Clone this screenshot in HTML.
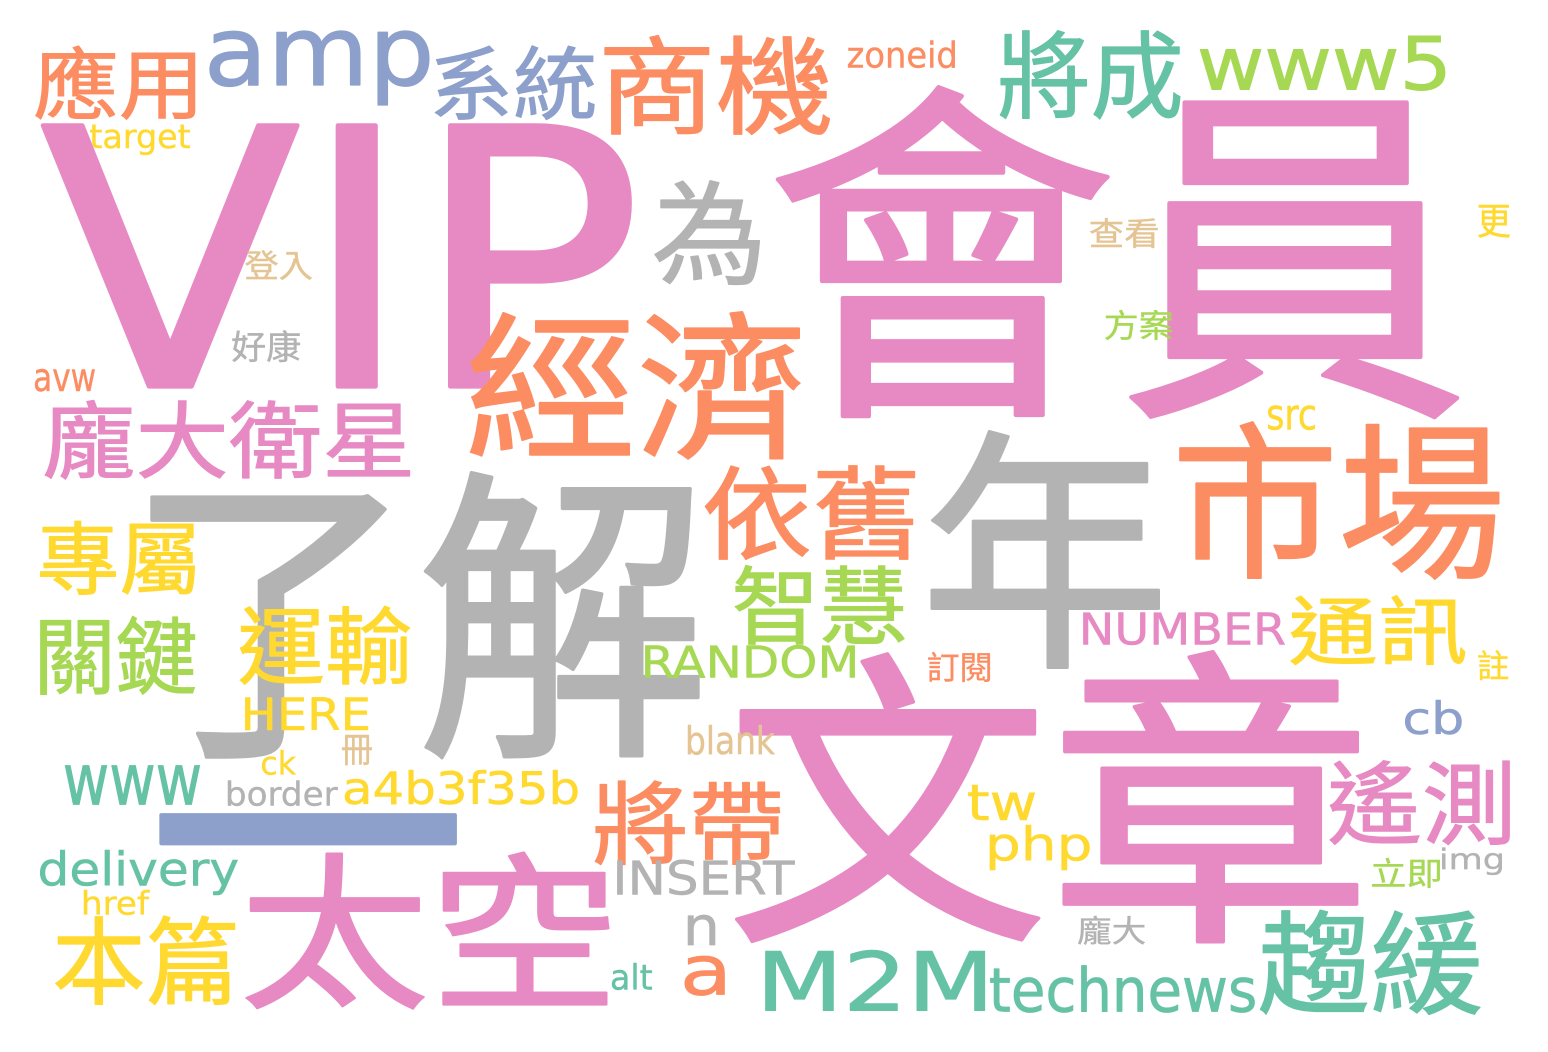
<!DOCTYPE html>
<html><head><meta charset="utf-8">
<style>
html,body{margin:0;padding:0;background:#fff;}
svg{display:block;}
text{font-family:"DejaVu Sans","Liberation Sans","Noto Sans CJK TC",sans-serif;}
</style></head>
<body>
<svg id="cloud" width="1548" height="1052" viewBox="0 0 1548 1052"></svg>
<script>
const words = ["VIP","會員","了解","年","文章","經濟","市場","太空","趨緩","遙測","通訊","將帶","依舊","智慧","龐大衛星","專屬","關鍵","運輸","本篇","應用","amp","系統","商機","將成","www5","為","zoneid","target","查看","更","登入","方案","好康","avw","src","NUMBER","RANDOM","訂閱","註","HERE","一","冊","blank","cb","ck","www","border","a4b3f35b","tw","php","delivery","INSERT","href","img","立即","龐大","n","a","M2M","technews","alt"];
const colors = ["pink","pink","gray","gray","pink","orange","orange","pink","green","pink","yellow","orange","orange","lime","pink","yellow","lime","yellow","yellow","orange","blue","blue","orange","green","lime","gray","orange","yellow","tan","yellow","tan","lime","gray","orange","yellow","pink","lime","orange","yellow","yellow","blue","tan","tan","blue","yellow","green","gray","yellow","yellow","yellow","green","gray","yellow","gray","lime","gray","gray","orange","green","green","green"];
const boxes = [[40,125,630,390],[775,85,1460,420],[150,470,700,760],[930,430,1160,670],[735,650,1360,945],[470,310,800,460],[1180,420,1500,580],[245,850,610,1010],[1260,910,1480,1015],[1330,760,1510,845],[1290,595,1465,665],[595,780,780,865],[705,465,915,560],[735,565,905,645],[45,400,410,480],[40,520,195,595],[40,615,195,695],[240,605,410,685],[55,915,235,1005],[35,45,195,120],[210,30,430,105],[435,45,595,120],[605,35,830,135],[1000,30,1180,120],[1200,35,1445,90],[655,180,760,285],[848,40,955,68],[90,125,190,155],[1090,218,1158,248],[1478,205,1510,238],[245,250,312,280],[1105,310,1172,340],[232,330,300,362],[35,368,95,392],[1268,405,1315,430],[1083,612,1285,645],[645,645,855,678],[928,652,990,682],[1478,650,1508,680],[245,697,368,730],[160,812,455,843],[342,735,372,765],[688,725,775,755],[1405,700,1462,735],[262,750,296,775],[65,765,200,805],[228,780,338,806],[345,770,578,805],[968,785,1035,820],[990,825,1090,870],[40,850,238,895],[617,860,795,895],[84,890,150,915],[1442,847,1502,875],[1372,858,1440,888],[1078,916,1145,945],[688,915,715,945],[685,955,725,995],[765,950,985,1010],[990,965,1255,1012],[612,963,652,990]];
const palette = {pink:"#e78ac3",orange:"#fc8d62",green:"#66c2a5",blue:"#8da0cb",lime:"#a6d854",yellow:"#ffd92f",tan:"#e5c494",gray:"#b3b3b3"};
const FONT = '"DejaVu Sans","Liberation Sans","Noto Sans CJK TC",sans-serif';
const svg = document.getElementById('cloud');
const ctx = document.createElement('canvas').getContext('2d');
const NS = 'http://www.w3.org/2000/svg';
words.forEach((w,i)=>{
  const [x0,y0,x1,y1] = boxes[i];
  ctx.font = '100px ' + FONT;
  const m = ctx.measureText(w);
  const inkW = m.actualBoundingBoxLeft + m.actualBoundingBoxRight;
  const inkH = m.actualBoundingBoxAscent + m.actualBoundingBoxDescent;
  const sx = (x1-x0)/inkW;
  let sy = (y1-y0)/inkH;
  if (sy > sx*1.25) sy = sx*1.25;
  if (sy < sx*0.8) sy = sx*0.8;
  const tx = x0 + m.actualBoundingBoxLeft*sx;
  const ty = (y0+y1)/2 + (m.actualBoundingBoxAscent - m.actualBoundingBoxDescent)/2*sy;
  const t = document.createElementNS(NS,'text');
  t.setAttribute('x', 0);
  t.setAttribute('y', 0);
  t.setAttribute('font-size', 100);
  t.setAttribute('transform', 'translate(' + tx + ',' + ty + ') scale(' + sx + ',' + sy + ')');
  t.setAttribute('fill', palette[colors[i]]);
  t.setAttribute('stroke', palette[colors[i]]);
  t.setAttribute('stroke-width', 1.2);
  t.setAttribute('stroke-linejoin', 'round');
  t.setAttribute('stroke-linecap', 'round');
  
  
  t.textContent = w;
  svg.appendChild(t);
});
</script>
</body></html>
